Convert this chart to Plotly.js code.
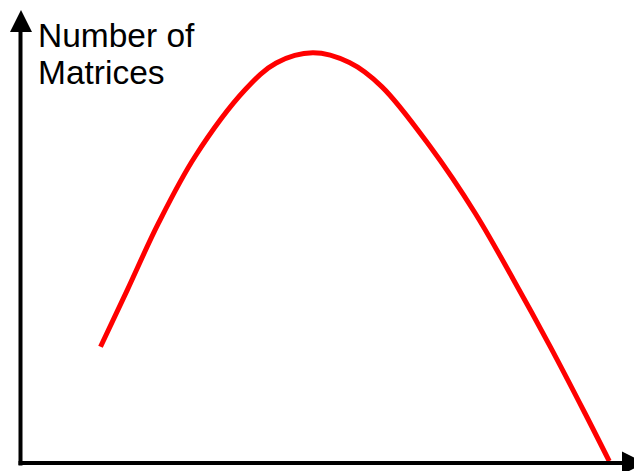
<!DOCTYPE html>
<html>
<head>
<meta charset="utf-8">
<script src="https://cdn.plot.ly/plotly-3.0.1.min.js"></script>
<style>
  html, body { margin: 0; padding: 0; background: #fff; }
  #chart { width: 634px; height: 471px; }
</style>
</head>
<body>
<div id="chart"></div>
<script>
// matrix size (arbitrary units) vs number of matrices
var sizes = [13.2, 17.6, 22.7, 28.7, 36.9, 42.0, 48.0, 54.0, 59.3, 67.2, 74.6, 80.9, 86.9, 92.6, 96.6];
var counts = [25.1, 37.4, 51.8, 66.2, 80.6, 86.4, 88.6, 86.5, 81.3, 68.4, 54.0, 39.6, 25.2, 10.8, 0.4];
var yLabel = ['Number of', 'Matrices'];

var W = 634, H = 471;
var L = 20, R = 4, T = 0, B = 7.5;
var plotW = W - L - R, plotH = H - T - B;
// pixel -> paper helpers for the hand-drawn axes
function px(x) { return (x - L) / plotW; }
function py(y) { return (H - B - y) / plotH; }

var trace = {
  x: sizes,
  y: counts,
  mode: 'lines',
  type: 'scatter',
  line: { color: '#ff0000', width: 5, shape: 'spline', smoothing: 1 },
  hoverinfo: 'skip'
};

var shapes = [
  // y axis
  { type: 'line', xref: 'paper', yref: 'paper', x0: px(20.5), x1: px(20.5), y0: py(466), y1: py(28),
    line: { color: '#000', width: 4 } },
  // x axis
  { type: 'line', xref: 'paper', yref: 'paper', x0: px(18.5), x1: px(626), y0: py(463.5), y1: py(463.5),
    line: { color: '#000', width: 4 } },
  // arrowheads
  { type: 'path', xref: 'paper', yref: 'paper',
    path: 'M ' + px(10) + ' ' + py(32) + ' L ' + px(21) + ' ' + py(10) + ' L ' + px(32) + ' ' + py(32) + ' Z',
    fillcolor: '#000', line: { width: 0 } },
  { type: 'path', xref: 'paper', yref: 'paper',
    path: 'M ' + px(622) + ' ' + py(452) + ' L ' + px(645) + ' ' + py(463.5) + ' L ' + px(622) + ' ' + py(475) + ' Z',
    fillcolor: '#000', line: { width: 0 } }
];

var annotations = yLabel.map(function (t, i) {
  return {
    text: t, xref: 'paper', yref: 'paper',
    x: px(36), y: py(35.5 + i * 36.6),
    xanchor: 'left', yanchor: 'middle', showarrow: false,
    font: { family: 'Liberation Sans, Arial, sans-serif', size: 33.5, color: '#000' }
  };
});

var layout = {
  width: W,
  height: H,
  margin: { l: L, r: R, t: T, b: B, pad: 0 },
  paper_bgcolor: '#fff',
  plot_bgcolor: '#fff',
  showlegend: false,
  xaxis: { range: [0, 100], visible: false, fixedrange: true },
  yaxis: { range: [0, 100], visible: false, fixedrange: true },
  shapes: shapes,
  annotations: annotations
};

Plotly.newPlot('chart', [trace], layout, { displayModeBar: false, staticPlot: true });
</script>
</body>
</html>
